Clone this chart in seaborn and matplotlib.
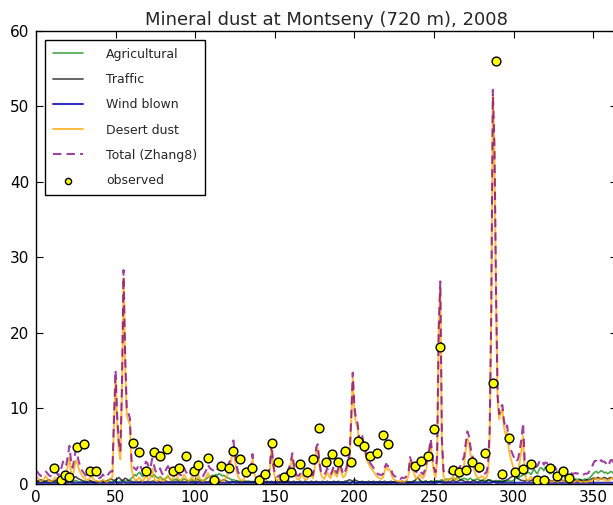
import numpy as np
import pandas as pd
import matplotlib
matplotlib.use("Agg")
import matplotlib.pyplot as plt
import seaborn as sns

# ---- daily modelled contributions (ug/m3), day 0 .. 365 of 2008 ----
dust = [
    1.0, 0.8, 0.5, 0.3, 0.4, 0.6, 1.0, 0.7, 0.4, 0.3,
    0.3, 0.5, 0.8, 0.6, 0.4, 0.5, 0.9, 1.4, 0.8, 1.2,
    2.4, 3.4, 1.5, 0.9, 2.0, 3.1, 2.6, 1.9, 1.4, 1.0,
    0.8, 0.6, 0.5, 0.4, 0.8, 1.0, 0.6, 0.4, 0.3, 0.3,
    0.2, 0.3, 0.5, 0.4, 0.2, 0.3, 0.5, 0.7, 0.8, 8.0,
    14.0, 8.0, 4.5, 3.2, 12.0, 27.2, 16.0, 9.0, 8.4, 7.8,
    2.0, 1.0, 0.5, 0.4, 0.6, 0.8, 0.5, 0.3, 0.6, 1.2,
    0.7, 0.4, 0.9, 2.0, 0.9, 0.4, 0.3, 0.5, 0.8, 0.4,
    0.3, 0.5, 0.8, 1.1, 0.6, 0.4, 0.6, 1.0, 1.3, 0.8,
    0.5, 0.4, 0.7, 1.2, 0.8, 0.5, 0.3, 0.6, 0.9, 0.5,
    0.4, 0.7, 1.1, 0.6, 0.4, 0.3, 0.5, 0.9, 1.4, 0.8,
    0.5, 0.4, 0.3, 0.4, 0.5, 0.6, 0.4, 0.3, 0.4, 0.6,
    1.0, 1.6, 2.2, 3.5, 4.8, 3.2, 1.6, 0.9, 0.6, 0.4,
    0.4, 0.8, 1.4, 0.9, 1.2, 1.8, 3.3, 1.5, 0.7, 0.4,
    0.3, 0.5, 0.4, 0.3, 0.6, 1.0, 0.8, 2.0, 4.8, 2.2,
    0.9, 0.5, 0.4, 0.6, 0.4, 0.3, 0.5, 0.8, 1.1, 1.6,
    2.4, 3.5, 2.0, 1.0, 0.6, 0.5, 0.8, 1.2, 0.9, 0.6,
    0.5, 0.8, 1.4, 1.0, 0.7, 2.0, 4.2, 4.7, 2.5, 1.2,
    0.8, 0.6, 1.0, 1.5, 1.0, 0.7, 1.2, 1.8, 1.2, 0.9,
    1.6, 2.2, 1.4, 0.8, 1.0, 1.5, 2.5, 3.2, 8.0, 14.0,
    9.5, 8.0, 7.5, 5.5, 5.0, 5.8, 4.5, 3.8, 3.0, 2.6,
    2.2, 1.9, 1.6, 1.3, 1.0, 0.8, 0.7, 0.6, 0.8, 1.6,
    2.2, 1.8, 1.9, 1.4, 0.8, 0.5, 0.4, 0.3, 0.3, 0.2,
    0.3, 0.2, 0.3, 0.5, 1.0, 3.0, 2.4, 1.8, 1.0, 0.6,
    0.8, 1.2, 0.9, 0.7, 1.0, 1.8, 3.0, 4.0, 5.2, 3.0,
    1.5, 0.8, 3.0, 20.0, 26.0, 5.0, 1.0, 0.5, 0.4, 0.6,
    0.5, 0.7, 0.9, 0.6, 0.5, 0.7, 1.0, 1.4, 2.0, 2.5,
    4.5, 6.0, 5.4, 3.8, 3.0, 2.0, 1.3, 0.9, 0.7, 0.8,
    1.0, 0.8, 0.6, 0.8, 1.5, 6.0, 22.0, 51.5, 44.0, 25.0,
    11.0, 8.5, 9.5, 9.8, 7.5, 6.5, 6.8, 4.5, 3.5, 2.8,
    2.0, 1.5, 1.2, 2.0, 3.0, 4.5, 6.3, 1.5, 0.5, 0.4,
    0.6, 0.9, 0.6, 0.4, 0.3, 0.5, 0.4, 0.3, 0.5, 0.3,
    0.2, 0.3, 0.5, 0.3, 0.2, 0.3, 0.4, 0.3, 0.2, 0.4,
    0.6, 0.4, 0.3, 0.2, 0.3, 0.5, 0.3, 0.2, 0.2, 0.3,
    0.4, 0.3, 0.2, 0.2, 0.3, 0.2, 0.2, 0.3, 0.4, 0.3,
    0.5, 0.8, 0.6, 0.4, 0.5, 0.7, 0.5, 0.6, 0.4, 0.3,
    0.4, 0.6, 0.8, 0.5, 0.4, 0.3,
]

agricultural = [
    0.2, 0.3, 0.2, 0.1, 0.2, 0.3, 0.2, 0.2, 0.1, 0.2,
    0.2, 0.3, 0.3, 0.2, 0.2, 0.3, 0.4, 0.5, 0.4, 0.3,
    0.3, 0.4, 0.3, 0.2, 0.3, 0.4, 0.3, 0.2, 0.2, 0.2,
    0.2, 0.1, 0.2, 0.2, 0.3, 0.2, 0.2, 0.1, 0.1, 0.2,
    0.2, 0.2, 0.3, 0.2, 0.2, 0.3, 0.3, 0.2, 0.2, 0.3,
    0.3, 0.2, 0.2, 0.3, 0.3, 0.4, 0.3, 0.3, 0.4, 0.5,
    0.7, 0.9, 1.2, 1.0, 1.3, 1.5, 1.2, 0.9, 1.1, 1.4,
    1.6, 1.3, 1.0, 0.9, 1.2, 1.0, 0.8, 0.7, 0.9, 0.7,
    0.5, 0.6, 0.8, 0.9, 0.7, 0.5, 0.4, 0.5, 0.6, 0.5,
    0.4, 0.4, 0.5, 0.6, 0.5, 0.4, 0.3, 0.4, 0.5, 0.4,
    0.4, 0.5, 0.6, 0.5, 0.4, 0.4, 0.5, 0.6, 0.8, 0.9,
    1.0, 1.1, 1.0, 1.2, 1.1, 1.3, 1.2, 1.0, 1.1, 0.9,
    0.8, 0.7, 0.6, 0.5, 0.5, 0.4, 0.4, 0.3, 0.3, 0.3,
    0.3, 0.2, 0.3, 0.3, 0.2, 0.2, 0.3, 0.2, 0.2, 0.2,
    0.2, 0.2, 0.1, 0.2, 0.2, 0.1, 0.2, 0.2, 0.1, 0.1,
    0.2, 0.1, 0.1, 0.2, 0.2, 0.1, 0.1, 0.2, 0.2, 0.1,
    0.1, 0.2, 0.1, 0.1, 0.2, 0.2, 0.1, 0.1, 0.1, 0.2,
    0.2, 0.1, 0.1, 0.2, 0.1, 0.1, 0.2, 0.2, 0.1, 0.1,
    0.1, 0.2, 0.2, 0.1, 0.1, 0.2, 0.1, 0.1, 0.2, 0.2,
    0.1, 0.1, 0.2, 0.1, 0.1, 0.2, 0.2, 0.1, 0.1, 0.2,
    0.2, 0.1, 0.1, 0.2, 0.2, 0.1, 0.1, 0.2, 0.1, 0.1,
    0.2, 0.2, 0.1, 0.1, 0.2, 0.1, 0.1, 0.2, 0.2, 0.1,
    0.1, 0.2, 0.1, 0.1, 0.2, 0.2, 0.1, 0.1, 0.2, 0.1,
    0.1, 0.2, 0.2, 0.1, 0.1, 0.2, 0.1, 0.2, 0.3, 0.2,
    0.2, 0.3, 0.2, 0.2, 0.3, 0.3, 0.2, 0.2, 0.3, 0.3,
    0.3, 0.4, 0.3, 0.3, 0.4, 0.5, 0.4, 0.5, 0.6, 0.5,
    0.6, 0.7, 0.6, 0.5, 0.7, 0.8, 0.6, 0.5, 0.6, 0.7,
    0.6, 0.5, 0.6, 0.7, 0.5, 0.4, 0.5, 0.6, 0.5, 0.4,
    0.4, 0.5, 0.4, 0.3, 0.4, 0.5, 0.4, 0.3, 0.3, 0.4,
    0.3, 0.4, 0.3, 0.3, 0.4, 0.3, 0.3, 0.4, 0.3, 0.3,
    0.4, 0.6, 0.8, 0.7, 0.9, 1.0, 1.2, 1.1, 1.3, 1.5,
    1.4, 1.2, 1.6, 1.9, 1.5, 1.3, 1.8, 2.1, 2.0, 1.7,
    2.2, 1.9, 1.5, 1.3, 1.6, 1.4, 1.2, 1.0, 1.1, 0.9,
    0.8, 1.0, 0.9, 0.7, 0.8, 0.6, 0.7, 0.6, 0.5, 0.6,
    0.5, 0.6, 0.5, 0.4, 0.5, 0.6, 0.5, 0.6, 0.8, 1.0,
    1.3, 1.5, 1.6, 1.4, 1.5, 1.7, 1.6, 1.4, 1.5, 1.3,
    1.4, 1.6, 1.5, 1.3, 1.4, 1.5,
]

traffic = [
    0.4, 0.3, 0.4, 0.5, 0.4, 0.3, 0.3, 0.4, 0.5, 0.4,
    0.3, 0.3, 0.4, 0.5, 0.4, 0.5, 0.7, 0.9, 1.0, 0.9,
    0.8, 1.0, 1.1, 0.9, 0.8, 0.9, 0.7, 0.6, 0.5, 0.4,
    0.3, 0.3, 0.2, 0.3, 0.4, 0.3, 0.2, 0.2, 0.3, 0.2,
    0.2, 0.3, 0.3, 0.2, 0.3, 0.4, 0.5, 0.6, 0.5, 0.4,
    0.5, 0.6, 0.8, 0.6, 0.4, 0.5, 0.7, 0.6, 0.4, 0.3,
    0.3, 0.2, 0.2, 0.3, 0.2, 0.2, 0.3, 0.3, 0.2, 0.2,
    0.3, 0.2, 0.2, 0.3, 0.3, 0.2, 0.2, 0.3, 0.2, 0.2,
    0.2, 0.3, 0.3, 0.2, 0.2, 0.3, 0.2, 0.2, 0.3, 0.3,
    0.2, 0.2, 0.3, 0.2, 0.2, 0.3, 0.3, 0.2, 0.2, 0.3,
    0.2, 0.2, 0.3, 0.3, 0.2, 0.2, 0.3, 0.2, 0.2, 0.3,
    0.3, 0.2, 0.2, 0.3, 0.2, 0.2, 0.3, 0.4, 0.5, 0.4,
    0.3, 0.2, 0.2, 0.3, 0.2, 0.2, 0.3, 0.2, 0.2, 0.2,
    0.2, 0.3, 0.2, 0.2, 0.3, 0.2, 0.2, 0.2, 0.3, 0.2,
    0.2, 0.3, 0.2, 0.2, 0.2, 0.3, 0.2, 0.2, 0.3, 0.2,
    0.2, 0.2, 0.3, 0.2, 0.2, 0.3, 0.2, 0.2, 0.2, 0.3,
    0.2, 0.2, 0.3, 0.2, 0.2, 0.2, 0.3, 0.2, 0.2, 0.3,
    0.2, 0.2, 0.2, 0.3, 0.2, 0.2, 0.3, 0.2, 0.2, 0.2,
    0.3, 0.2, 0.2, 0.3, 0.2, 0.2, 0.2, 0.3, 0.2, 0.2,
    0.3, 0.2, 0.2, 0.2, 0.3, 0.3, 0.4, 0.5, 0.4, 0.3,
    0.5, 0.4, 0.3, 0.2, 0.2, 0.3, 0.2, 0.2, 0.2, 0.3,
    0.2, 0.2, 0.3, 0.2, 0.2, 0.2, 0.3, 0.2, 0.2, 0.3,
    0.2, 0.2, 0.2, 0.3, 0.2, 0.2, 0.3, 0.2, 0.2, 0.2,
    0.3, 0.2, 0.2, 0.3, 0.2, 0.2, 0.2, 0.3, 0.4, 0.6,
    0.8, 0.5, 0.3, 0.2, 0.2, 0.3, 0.2, 0.2, 0.3, 0.2,
    0.2, 0.2, 0.3, 0.2, 0.2, 0.3, 0.2, 0.2, 0.2, 0.3,
    0.2, 0.3, 0.4, 0.3, 0.2, 0.3, 0.4, 0.5, 0.4, 0.3,
    0.2, 0.3, 0.2, 0.2, 0.3, 0.4, 0.3, 0.2, 0.2, 0.3,
    0.4, 0.3, 0.2, 0.3, 0.5, 0.4, 0.3, 0.2, 0.3, 0.2,
    0.3, 0.2, 0.3, 0.2, 0.3, 0.4, 0.5, 0.6, 0.8, 0.9,
    1.1, 1.0, 0.8, 0.6, 0.5, 0.4, 0.4, 0.3, 0.4, 0.4,
    0.3, 0.4, 0.5, 0.4, 0.3, 0.4, 0.5, 0.6, 0.5, 0.4,
    0.3, 0.4, 0.5, 0.4, 0.3, 0.4, 0.5, 0.4, 0.3, 0.4,
    0.5, 0.4, 0.3, 0.4, 0.5, 0.4, 0.3, 0.4, 0.5, 0.4,
    0.3, 0.4, 0.5, 0.4, 0.3, 0.4, 0.5, 0.4, 0.5, 0.6,
    0.7, 0.6, 0.7, 0.8, 0.7, 0.6, 0.7, 0.8, 0.7, 0.6,
    0.7, 0.8, 0.7, 0.6, 0.7, 0.6,
]

wind_blown = [
    0.1, 0.1, 0.1, 0.1, 0.1, 0.1, 0.1, 0.1, 0.1, 0.1,
    0.1, 0.1, 0.1, 0.1, 0.1, 0.1, 0.1, 0.1, 0.1, 0.1,
    0.1, 0.2, 0.1, 0.1, 0.1, 0.1, 0.1, 0.1, 0.1, 0.1,
    0.1, 0.1, 0.1, 0.1, 0.1, 0.1, 0.1, 0.1, 0.1, 0.1,
    0.1, 0.1, 0.1, 0.1, 0.1, 0.1, 0.1, 0.1, 0.1, 0.1,
    0.2, 0.1, 0.1, 0.1, 0.1, 0.2, 0.1, 0.1, 0.1, 0.1,
    0.1, 0.1, 0.1, 0.1, 0.1, 0.1, 0.1, 0.1, 0.1, 0.1,
    0.1, 0.1, 0.1, 0.1, 0.1, 0.1, 0.1, 0.1, 0.1, 0.1,
    0.1, 0.1, 0.1, 0.1, 0.1, 0.1, 0.1, 0.1, 0.1, 0.1,
    0.1, 0.1, 0.1, 0.1, 0.1, 0.1, 0.1, 0.1, 0.1, 0.1,
    0.1, 0.1, 0.1, 0.1, 0.1, 0.1, 0.1, 0.1, 0.1, 0.1,
    0.1, 0.1, 0.1, 0.1, 0.1, 0.1, 0.1, 0.1, 0.1, 0.1,
    0.1, 0.1, 0.1, 0.1, 0.2, 0.1, 0.1, 0.1, 0.1, 0.1,
    0.1, 0.1, 0.1, 0.1, 0.1, 0.1, 0.1, 0.1, 0.1, 0.1,
    0.1, 0.1, 0.1, 0.1, 0.1, 0.1, 0.1, 0.1, 0.1, 0.1,
    0.1, 0.1, 0.1, 0.1, 0.1, 0.1, 0.1, 0.1, 0.1, 0.1,
    0.1, 0.1, 0.1, 0.1, 0.1, 0.1, 0.1, 0.1, 0.1, 0.1,
    0.1, 0.1, 0.1, 0.1, 0.1, 0.1, 0.1, 0.1, 0.1, 0.1,
    0.1, 0.1, 0.1, 0.1, 0.1, 0.1, 0.1, 0.1, 0.1, 0.1,
    0.1, 0.1, 0.1, 0.1, 0.1, 0.1, 0.1, 0.1, 0.1, 0.2,
    0.1, 0.1, 0.1, 0.1, 0.1, 0.1, 0.1, 0.1, 0.1, 0.1,
    0.1, 0.1, 0.1, 0.1, 0.1, 0.1, 0.1, 0.1, 0.1, 0.1,
    0.1, 0.1, 0.1, 0.1, 0.1, 0.1, 0.1, 0.1, 0.1, 0.1,
    0.1, 0.1, 0.1, 0.1, 0.1, 0.1, 0.1, 0.1, 0.1, 0.1,
    0.1, 0.1, 0.1, 0.1, 0.1, 0.1, 0.1, 0.1, 0.1, 0.1,
    0.1, 0.1, 0.1, 0.2, 0.2, 0.1, 0.1, 0.1, 0.1, 0.1,
    0.1, 0.1, 0.1, 0.1, 0.1, 0.1, 0.1, 0.1, 0.1, 0.1,
    0.1, 0.1, 0.1, 0.1, 0.1, 0.1, 0.1, 0.1, 0.1, 0.1,
    0.1, 0.1, 0.1, 0.1, 0.1, 0.1, 0.1, 0.2, 0.2, 0.1,
    0.1, 0.1, 0.1, 0.1, 0.1, 0.1, 0.1, 0.1, 0.1, 0.1,
    0.1, 0.1, 0.1, 0.1, 0.1, 0.1, 0.1, 0.1, 0.1, 0.1,
    0.1, 0.1, 0.1, 0.1, 0.1, 0.1, 0.1, 0.1, 0.1, 0.1,
    0.1, 0.1, 0.1, 0.1, 0.1, 0.1, 0.1, 0.1, 0.1, 0.1,
    0.1, 0.1, 0.1, 0.1, 0.1, 0.1, 0.1, 0.1, 0.1, 0.1,
    0.1, 0.1, 0.1, 0.1, 0.1, 0.1, 0.1, 0.1, 0.1, 0.1,
    0.1, 0.1, 0.1, 0.1, 0.1, 0.1, 0.1, 0.1, 0.1, 0.1,
    0.1, 0.1, 0.1, 0.1, 0.1, 0.1,
]

# ---- filter measurements ----
obs_day = [11, 16, 18, 21, 26, 30, 34, 38, 61, 65, 69, 74, 78, 82, 86, 90,
           94, 99, 102, 108, 112, 116, 121, 124, 128, 132, 136, 140, 144,
           148, 152, 156, 160, 166, 170, 174, 178, 182, 186, 190, 194, 198,
           202, 206, 210, 214, 218, 221, 238, 242, 246, 250, 254, 262, 266,
           270, 274, 278, 282, 287, 289, 293, 297, 301, 306, 311, 315, 319,
           323, 327, 331, 335]
obs_val = [2.0, 0.5, 1.1, 0.9, 4.8, 5.2, 1.6, 1.6, 5.4, 4.2, 1.7, 4.2, 3.6,
           4.6, 1.7, 2.1, 3.7, 1.7, 2.4, 3.4, 0.5, 2.3, 2.1, 4.3, 3.3, 1.5,
           2.0, 0.5, 1.2, 5.4, 2.8, 0.8, 1.5, 2.6, 1.5, 3.2, 7.4, 2.9, 3.9,
           2.8, 4.3, 2.8, 5.6, 5.0, 3.6, 4.1, 6.4, 5.2, 2.3, 3.0, 3.6, 7.2,
           18.1, 1.8, 1.5, 1.8, 2.8, 2.2, 4.1, 13.3, 56.0, 1.2, 6.0, 1.5,
           1.9, 2.6, 0.5, 0.4, 2.0, 1.0, 1.6, 0.7]

days = np.arange(len(dust))
model = pd.DataFrame({
    "day": days,
    "Agricultural": agricultural,
    "Traffic": traffic,
    "Wind blown": wind_blown,
    "Desert dust": dust,
})
model["Total (Zhang8)"] = model[["Agricultural", "Traffic", "Wind blown",
                                 "Desert dust"]].sum(axis=1)
obs = pd.DataFrame({"day": obs_day, "value": obs_val})

sns.set_style("ticks")
plt.rcParams.update({
    "font.family": ["DejaVu Sans"],
    "xtick.direction": "in",
    "ytick.direction": "in",
    "xtick.top": True,
    "ytick.right": True,
    "xtick.major.size": 5,
    "ytick.major.size": 5,
    "xtick.major.width": 0.8,
    "ytick.major.width": 0.8,
    "axes.edgecolor": "black",
    "axes.linewidth": 1.0,
    "xtick.color": "black",
    "ytick.color": "black",
})

fig = plt.figure(figsize=(6.13, 5.05), dpi=100)
ax = fig.add_axes([36 / 613, 21.5 / 505, 581 / 613, 452.5 / 505])

styles = [
    ("Agricultural", "green", 1.2, 0.7),
    ("Traffic", "black", 1.2, 0.7),
    ("Wind blown", "#0000aa", 1.5, 0.8),
    ("Desert dust", "#FFA500", 1.4, 0.75),
]
for name, col, lw, a in styles:
    sns.lineplot(data=model, x="day", y=name, color=col, alpha=a, lw=lw,
                 label=name, ax=ax, estimator=None, sort=False)

sns.lineplot(data=model, x="day", y="Total (Zhang8)", color="#800080",
             alpha=0.75, lw=1.5, linestyle=(0, (4, 2.5)),
             label="Total (Zhang8)", ax=ax, estimator=None, sort=False)

sns.scatterplot(data=obs, x="day", y="value", color="yellow",
                edgecolor="black", linewidth=1.0, s=40, zorder=5,
                label="observed", ax=ax)

ax.set_xlim(0, 365)
ax.set_ylim(0, 60)
ax.set_xticks(np.arange(0, 351, 50))
ax.set_yticks(np.arange(0, 61, 10))
ax.tick_params(labelsize=11, pad=5)
ax.set_xlabel("")
ax.set_ylabel("")
ax.set_title("Mineral dust at Montseny (720 m), 2008", fontsize=13, pad=4)

leg = ax.legend(loc="upper left", fontsize=9, frameon=True, fancybox=False,
                edgecolor="black", framealpha=1, handlelength=2.4,
                handletextpad=1.85, labelspacing=0.98, borderaxespad=0.75,
                borderpad=0.6, scatterpoints=1, markerscale=0.7)
leg.get_frame().set_linewidth(1.0)

fig.savefig("out.png", dpi=100)
